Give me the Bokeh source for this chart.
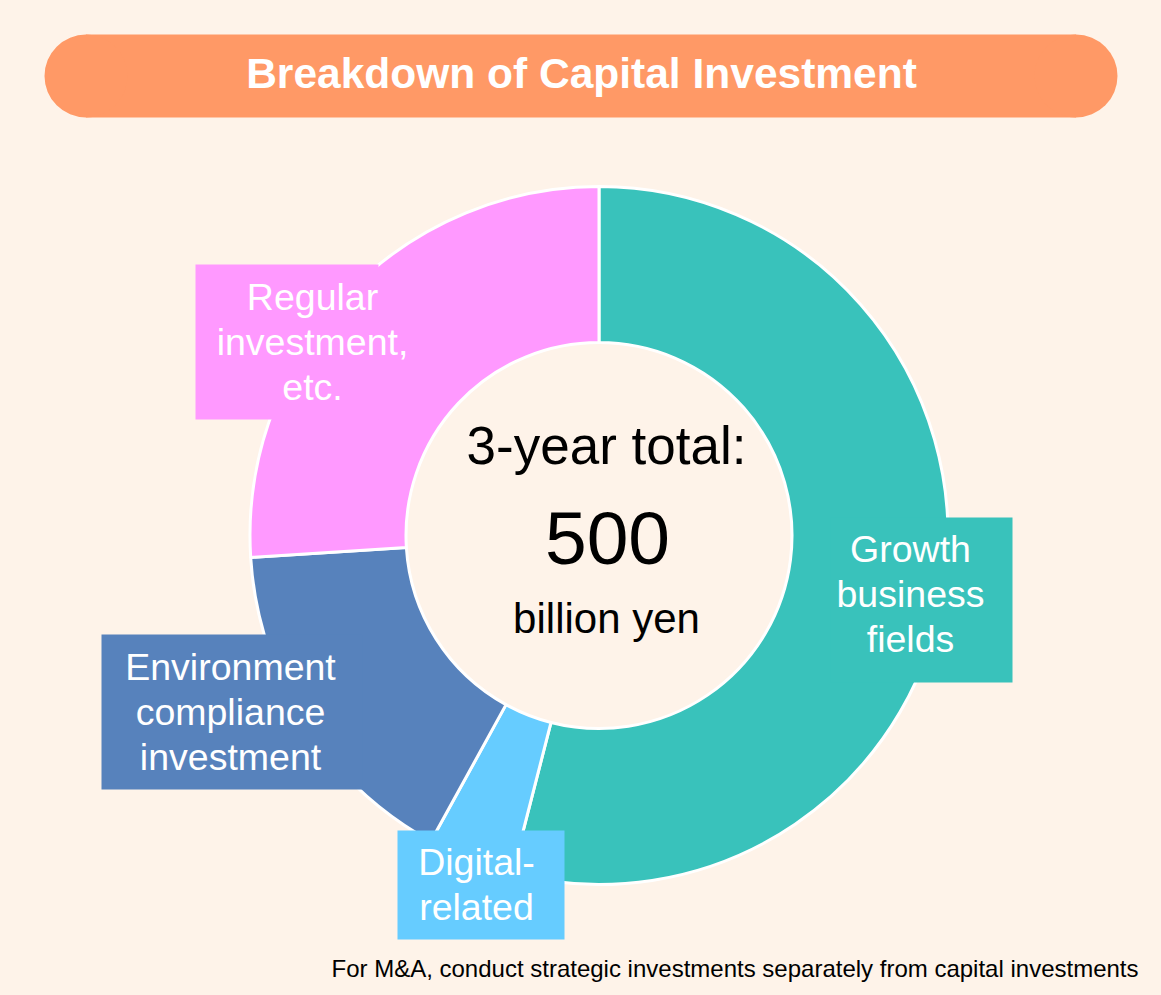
import numpy as np
from bokeh.plotting import figure
from bokeh.models import Range1d, ColumnDataSource
from bokeh.core.properties import value
from bokeh.embed import file_html
from bokeh.resources import INLINE

# ---------------- data ----------------
categories = ["Growth business fields", "Digital-related",
              "Environment compliance investment", "Regular investment, etc."]
values = [270, 20, 80, 130]          # billion yen, 3-year total 500
colors = ["#39C2BB", "#66CCFF", "#5782BC", "#FF99FF"]
label_lines = [["Growth", "business", "fields"],
               ["Digital-", "related"],
               ["Environment", "compliance", "investment"],
               ["Regular", "investment,", "etc."]]
title_text = "Breakdown of Capital Investment"
center_lines = ["3-year total:", "500", "billion yen"]
footnote = "For M&A, conduct strategic investments separately from capital investments"

# ---------------- layout (image pixel coords, y downward) ----------------
W, H = 1161, 995
BG = "#FEF3E9"
FONT = "Liberation Sans"
K = 0.36   # baseline correction (fraction of font size)

def Y(y):
    return H - y

def TY(baseline, size):
    return Y(baseline - K * size)

p = figure(width=W, height=H, output_backend="svg",
           toolbar_location=None, x_range=Range1d(0, W),
           y_range=Range1d(0, H), min_border=0)
p.axis.visible = False
p.grid.visible = False
p.outline_line_color = None
p.background_fill_color = BG
p.border_fill_color = BG

# title pill
tx0, tx1, ty0, ty1 = 44, 1117, 34, 117
r = (ty1 - ty0) / 2
p.quad(left=[tx0 + r], right=[tx1 - r], top=[Y(ty0)], bottom=[Y(ty1)],
       fill_color="#FF9966", line_color=None)
p.circle(x=[tx0 + r, tx1 - r], y=[Y(ty0 + r)] * 2, radius=r,
         fill_color="#FF9966", line_color=None)
p.text(x=[581], y=[TY(88, 42.5)], text=[title_text], text_color="white",
       text_font=value(FONT), text_font_style="bold", text_font_size="42.5px",
       text_align="center", text_baseline="alphabetic")

# donut
cx, cy = 598.5, 535
frac = np.array(values, dtype=float) / np.sum(values)
cum = np.concatenate([[0], np.cumsum(frac)])
start = np.pi / 2 - 2 * np.pi * cum[:-1]
end = np.pi / 2 - 2 * np.pi * cum[1:]
src = ColumnDataSource(dict(start=start, end=end, color=colors, cat=categories))
p.annular_wedge(x=cx, y=Y(cy), inner_radius=193, outer_radius=349,
                start_angle="start", end_angle="end", direction="clock",
                fill_color="color", line_color="white", line_width=3,
                source=src)

# label boxes: (left, right, top, bottom, text center x, first baseline)
boxes = [(830, 1012, 517, 682, 910, 562),
         (397, 564, 830, 939, 476, 875),
         (101, 362, 634, 789, 230, 680),
         (195, 378, 264, 419, 312, 310)]
line_gap = 45
LS = 37.5
for (l, rr, t, b, txc, bl), col, lines in zip(boxes, colors, label_lines):
    p.quad(left=[l], right=[rr], top=[Y(t)], bottom=[Y(b)],
           fill_color=col, line_color=None)
    p.text(x=[txc] * len(lines),
           y=[TY(bl + i * line_gap, LS) for i in range(len(lines))],
           text=lines, text_color="white", text_font=value(FONT),
           text_font_size="%spx" % LS, text_align="center",
           text_baseline="alphabetic")

# center text
p.text(x=[606], y=[TY(464, 53)], text=[center_lines[0]], text_color="black",
       text_font=value(FONT), text_font_size="53px", text_align="center",
       text_baseline="alphabetic")
p.text(x=[607], y=[TY(565, 75)], text=[center_lines[1]], text_color="black",
       text_font=value(FONT), text_font_size="75px", text_align="center",
       text_baseline="alphabetic")
p.text(x=[606], y=[TY(633, 42)], text=[center_lines[2]], text_color="black",
       text_font=value(FONT), text_font_size="42px", text_align="center",
       text_baseline="alphabetic")

# footnote
p.text(x=[1138], y=[TY(977, 24)], text=[footnote], text_color="black",
       text_font=value(FONT), text_font_size="24px", text_align="right",
       text_baseline="alphabetic")

html = file_html(p, INLINE)
html = html.replace("<head>",
                    "<head><style>html,body{margin:0;padding:0;background:%s;}</style>" % BG, 1)
open("out.html", "w").write(html)
